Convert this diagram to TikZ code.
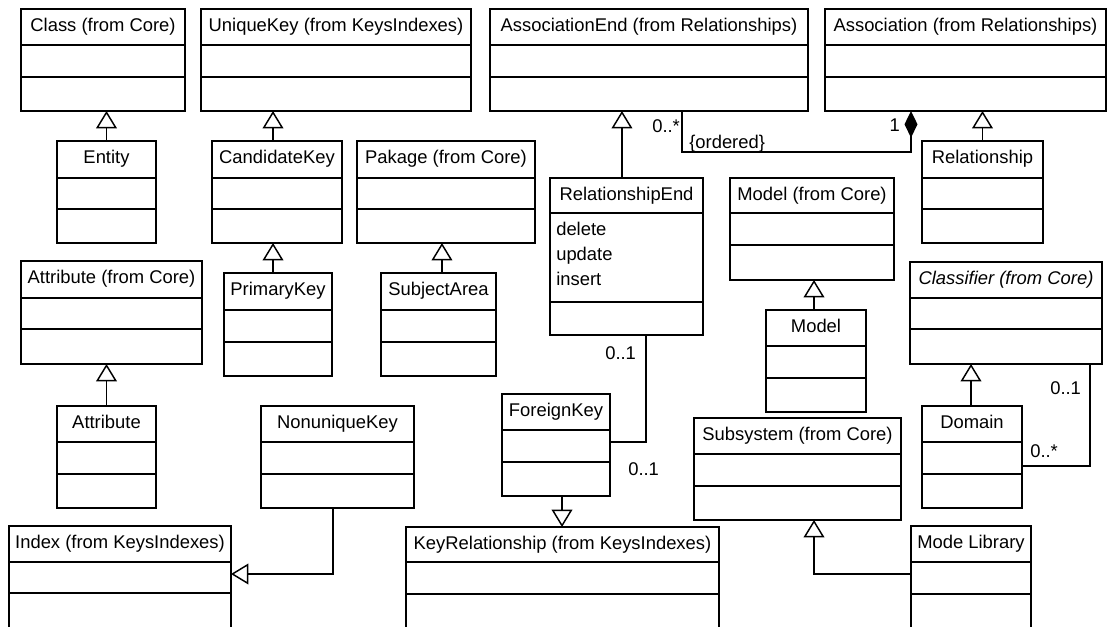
\documentclass[tikz,border=0pt]{standalone}
\usepackage{fontspec}
\setmainfont{Liberation Sans}
\usetikzlibrary{calc,arrows.meta,shadows}

\tikzset{
  classbox/.style={draw, fill=white, line width=1.1pt, inner sep=0pt, outer sep=0pt,
    anchor=north west,
    drop shadow={shadow xshift=1.1pt, shadow yshift=-1.1pt, fill=black, opacity=0.18}},
  classtitle/.style={anchor=base, inner sep=0pt},
  membertext/.style={anchor=base west, inner sep=0pt},
  divider/.style={line width=1.1pt},
  mult/.style={anchor=base west, inner sep=0pt},
  gen/.style={line width=1.1pt, -{Triangle[open, length=13pt, width=15.5pt]}},
  comp/.style={line width=1.1pt, -{Diamond[length=20pt, width=9.75pt]}},
  assoc/.style={line width=1.1pt},
}

% class box: name, left, top, width, height, first divider, second divider, title
\newcommand{\umlclass}[8]{%
  \node[classbox, minimum width={(#4)*0.75pt}, minimum height={(#5)*0.75pt}] (#1) at (#2,#3) {};
  \node[classtitle] (#1-title) at ($(#1.north)+(0,22.5)$) {#8};
  \draw[divider] ($(#1.north west)+(0,#6)$) -- ($(#1.north east)+(0,#6)$);
  \draw[divider] ($(#1.north west)+(0,#7)$) -- ($(#1.north east)+(0,#7)$);
}

\begin{document}
\begin{tikzpicture}[x=0.75pt, y=-0.75pt, font=\fontsize{13.8}{16.5}\selectfont]
\path[use as bounding box, fill=white] (0,0) rectangle (1108,627);
\clip (0,0) rectangle (1108,627);

% top row
\umlclass{classcore}{21}{9}{164}{102}{36}{68}{Class (from Core)}
\umlclass{uniquekey}{201}{9}{270}{102}{36}{68}{UniqueKey (from KeysIndexes)}
\umlclass{assocend}{490}{9}{318}{102}{36}{68}{AssociationEnd (from Relationships)}
\umlclass{association}{825}{9}{281}{102}{36}{68}{Association (from Relationships)}

% second row
\umlclass{entity}{57}{141}{99}{102}{37}{68}{Entity}
\umlclass{candkey}{212}{141}{130}{102}{37}{68}{CandidateKey}
\umlclass{pakage}{357}{141}{178}{102}{37}{68}{Pakage (from Core)}
\umlclass{relationship}{922}{141}{121}{102}{37}{68}{Relationship}
\umlclass{relend}{550}{178}{153}{157}{35}{124}{RelationshipEnd}
\umlclass{modelcore}{730}{178}{164}{102}{35}{67}{Model (from Core)}

% third row
\umlclass{attrcore}{21}{261}{181}{103}{37}{68}{Attribute (from Core)}
\umlclass{primarykey}{224}{273}{108}{103}{37}{69}{PrimaryKey}
\umlclass{subjectarea}{381}{273}{115}{103}{37}{69}{SubjectArea}
\umlclass{classifier}{910}{262}{192}{102}{36}{67}{\itshape Classifier (from Core)}
\umlclass{model}{766}{310}{100}{102}{36}{68}{Model}

% fourth row
\umlclass{attribute}{57}{406}{99}{102}{36}{68}{Attribute}
\umlclass{nonunique}{261}{406}{153}{102}{36}{68}{NonuniqueKey}
\umlclass{foreignkey}{502}{394}{108}{102}{36}{68}{ForeignKey}
\umlclass{subsystem}{694}{418}{207}{102}{36}{68}{Subsystem (from Core)}
\umlclass{domain}{922}{406}{100}{102}{36}{68}{Domain}

% bottom row (runs past the lower edge)
\umlclass{index}{9}{526}{222}{120}{36}{67}{Index (from KeysIndexes)}
\umlclass{keyrel}{406}{527}{313}{120}{35}{67}{KeyRelationship (from KeysIndexes)}
\umlclass{modelib}{911}{526}{120}{120}{36}{68}{Mode Library}

% attributes of RelationshipEnd
\node[membertext] (m-delete) at ($(relend.north west)+(6,58)$) {delete};
\node[membertext] (m-update) at ($(relend.north west)+(6,83)$) {update};
\node[membertext] (m-insert) at ($(relend.north west)+(6,108)$) {insert};

% generalizations
\draw[gen] (entity.north) -- (entity.north |- classcore.south);
\draw[gen] ([xshift=-3pt]candkey.north) -- ([xshift=-3pt]candkey.north |- uniquekey.south);
\draw[gen] ([xshift=-3.75pt]primarykey.north) -- ([xshift=-3.75pt]primarykey.north |- candkey.south);
\draw[gen] ([xshift=2.6pt]subjectarea.north) -- ([xshift=2.6pt]subjectarea.north |- pakage.south);
\draw[gen] ([xshift=-3.4pt]relend.north) -- ([xshift=-3.4pt]relend.north |- assocend.south);
\draw[gen] (relationship.north) -- (relationship.north |- association.south);
\draw[gen] (attribute.north) -- (attribute.north |- attrcore.south);
\draw[gen] ([xshift=-1.5pt]model.north) -- ([xshift=-1.5pt]model.north |- modelcore.south);
\draw[gen] ([xshift=-0.75pt]domain.north) -- ([xshift=-0.75pt]domain.north |- classifier.south);
\draw[gen] ([xshift=4.5pt]foreignkey.south) -- ([xshift=4.5pt]foreignkey.south |- keyrel.north);
\draw[gen] ($(nonunique.south west)+(72,0)$) |- ($(index.north east)+(0,48)$);
\draw[gen] ($(modelib.north west)+(0,48)$) -| ($(subsystem.south west)+(120,0)$);

% associations
\draw[comp] ($(assocend.south west)+(192,0)$) |- ($(association.south west)+(86,41)$)
  -- ($(association.south west)+(86,0)$);
\draw[assoc] ($(relend.south west)+(96,0)$) |- ($(foreignkey.north east)+(0,48)$);
\draw[assoc] ($(classifier.south west)+(180,0)$) |- ($(domain.north east)+(0,60)$);

% multiplicities and constraints
\node[mult] (mult-ae) at (652,133) {0..*};
\node[mult] (ordered) at (689,149) {\{ordered\}};
\node[anchor=base east, inner sep=0pt] (mult-as) at (900,132) {1};
\node[mult] (mult-re) at (605,360) {0..1};
\node[mult] (mult-fk) at (628,476) {0..1};
\node[mult] (mult-cl) at (1050,395) {0..1};
\node[mult] (mult-do) at (1030,458) {0..*};
\end{tikzpicture}
\end{document}
